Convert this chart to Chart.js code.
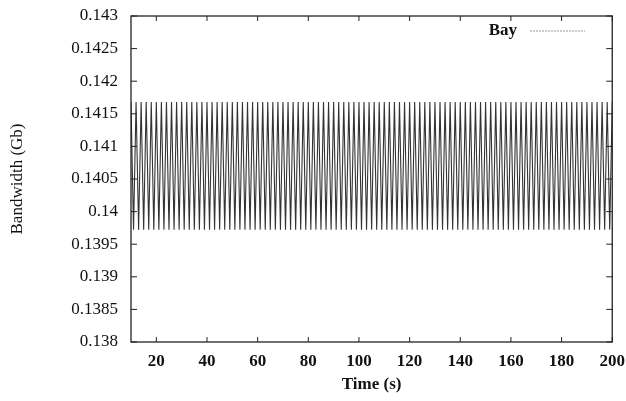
<!DOCTYPE html>
<html>
<head>
<meta charset="utf-8">
<script src="https://cdn.jsdelivr.net/npm/chart.js@4.4.1/dist/chart.umd.min.js"></script>
<style>
	html, body { margin: 0; padding: 0; background: #fff; }
	#wrap { width: 626px; height: 401px; }
</style>
</head>
<body>
<div id="wrap"><canvas id="c" width="626" height="401"></canvas></div>
<script>
// time axis: one sample per second from t = 10 s
var startTime = 10;
var yTicks = [0.138, 0.1385, 0.139, 0.1395, 0.14, 0.1405, 0.141, 0.1415, 0.142, 0.1425, 0.143];
var xTicks = [20, 40, 60, 80, 100, 120, 140, 160, 180, 200];
var seriesName = 'Bay';

// bandwidth (Gb)
var bandwidth = [
	0.14168, 0.13972, 0.14168, 0.13972, 0.14168, 0.13972, 0.14168, 0.13972, 0.14168, 0.13972,
	0.14168, 0.13972, 0.14168, 0.13972, 0.14168, 0.13972, 0.14168, 0.13972, 0.14168, 0.13972,
	0.14168, 0.13972, 0.14168, 0.13972, 0.14168, 0.13972, 0.14168, 0.13972, 0.14168, 0.13972,
	0.14168, 0.13972, 0.14168, 0.13972, 0.14168, 0.13972, 0.14168, 0.13972, 0.14168, 0.13972,
	0.14168, 0.13972, 0.14168, 0.13972, 0.14168, 0.13972, 0.14168, 0.13972, 0.14168, 0.13972,
	0.14168, 0.13972, 0.14168, 0.13972, 0.14168, 0.13972, 0.14168, 0.13972, 0.14168, 0.13972,
	0.14168, 0.13972, 0.14168, 0.13972, 0.14168, 0.13972, 0.14168, 0.13972, 0.14168, 0.13972,
	0.14168, 0.13972, 0.14168, 0.13972, 0.14168, 0.13972, 0.14168, 0.13972, 0.14168, 0.13972,
	0.14168, 0.13972, 0.14168, 0.13972, 0.14168, 0.13972, 0.14168, 0.13972, 0.14168, 0.13972,
	0.14168, 0.13972, 0.14168, 0.13972, 0.14168, 0.13972, 0.14168, 0.13972, 0.14168, 0.13972,
	0.14168, 0.13972, 0.14168, 0.13972, 0.14168, 0.13972, 0.14168, 0.13972, 0.14168, 0.13972,
	0.14168, 0.13972, 0.14168, 0.13972, 0.14168, 0.13972, 0.14168, 0.13972, 0.14168, 0.13972,
	0.14168, 0.13972, 0.14168, 0.13972, 0.14168, 0.13972, 0.14168, 0.13972, 0.14168, 0.13972,
	0.14168, 0.13972, 0.14168, 0.13972, 0.14168, 0.13972, 0.14168, 0.13972, 0.14168, 0.13972,
	0.14168, 0.13972, 0.14168, 0.13972, 0.14168, 0.13972, 0.14168, 0.13972, 0.14168, 0.13972,
	0.14168, 0.13972, 0.14168, 0.13972, 0.14168, 0.13972, 0.14168, 0.13972, 0.14168, 0.13972,
	0.14168, 0.13972, 0.14168, 0.13972, 0.14168, 0.13972, 0.14168, 0.13972, 0.14168, 0.13972,
	0.14168, 0.13972, 0.14168, 0.13972, 0.14168, 0.13972, 0.14168, 0.13972, 0.14168, 0.13972,
	0.14168, 0.13972, 0.14168, 0.13972, 0.14168, 0.13972, 0.14168, 0.13972, 0.14168, 0.13972,
	0.14168
];

var points = [];
for (var i = 0; i < bandwidth.length; i++) {
	points.push({ x: startTime + i, y: bandwidth[i] });
}

var serif = '"Liberation Serif", "DejaVu Serif", serif';

// gnuplot like frame with inward ticks and the legend inside the plot
var framePlugin = {
	id: 'frame',
	afterDraw: function(chart){
		var ctx = chart.ctx,
			a = chart.chartArea,
			xs = chart.scales.x,
			ys = chart.scales.y;
		ctx.save();
		ctx.strokeStyle = '#222';
		ctx.lineWidth = 1.3;
		ctx.strokeRect(a.left, a.top, a.right - a.left, a.bottom - a.top);
		ctx.lineWidth = 1;
		xTicks.forEach(function(v){
			var px = xs.getPixelForValue(v);
			ctx.beginPath();
			ctx.moveTo(px, a.bottom); ctx.lineTo(px, a.bottom - 5);
			ctx.moveTo(px, a.top); ctx.lineTo(px, a.top + 5);
			ctx.stroke();
		});
		yTicks.forEach(function(v){
			var py = ys.getPixelForValue(v);
			ctx.beginPath();
			ctx.moveTo(a.left, py); ctx.lineTo(a.left + 6, py);
			ctx.moveTo(a.right, py); ctx.lineTo(a.right - 6, py);
			ctx.stroke();
		});
		// legend
		ctx.font = 'bold 17px ' + serif;
		ctx.fillStyle = '#111';
		ctx.textAlign = 'right';
		ctx.textBaseline = 'middle';
		ctx.fillText(seriesName, 517, 31);
		ctx.strokeStyle = '#999';
		ctx.setLineDash([2, 1]);
		ctx.beginPath();
		ctx.moveTo(530, 31); ctx.lineTo(585, 31);
		ctx.stroke();
		ctx.restore();
	}
};

new Chart(document.getElementById('c').getContext('2d'), {
	type: 'line',
	data: {
		datasets: [{
			label: seriesName,
			data: points,
			borderColor: '#333',
			borderWidth: 1.1,
			pointRadius: 0,
			tension: 0,
			fill: false
		}]
	},
	options: {
		responsive: false,
		animation: false,
		layout: { padding: { left: 0, right: 13, top: 16, bottom: 0 } },
		plugins: {
			legend: { display: false },
			tooltip: { enabled: false }
		},
		scales: {
			x: {
				type: 'linear',
				min: 10,
				max: 200,
				grid: { display: false },
				border: { display: false },
				afterBuildTicks: function(scale){
					scale.ticks = xTicks.map(function(v){ return { value: v }; });
				},
				afterFit: function(scale){ scale.height = 59; },
				ticks: {
					autoSkip: false,
					maxRotation: 0,
					padding: 1,
					color: '#111',
					font: { family: serif, size: 17, weight: 'bold' }
				},
				title: {
					display: true,
					text: 'Time (s)',
					color: '#111',
					padding: { top: 0, bottom: 6 },
					font: { family: serif, size: 17, weight: 'bold' }
				}
			},
			y: {
				min: 0.138,
				max: 0.143,
				grid: { display: false },
				border: { display: false },
				afterBuildTicks: function(scale){
					scale.ticks = yTicks.map(function(v){ return { value: v }; });
				},
				afterFit: function(scale){ scale.width = 131; },
				ticks: {
					autoSkip: false,
					padding: 5,
					color: '#111',
					font: { family: serif, size: 17 },
					callback: function(v){ return String(parseFloat(v.toFixed(4))); }
				},
				title: {
					display: true,
					text: 'Bandwidth (Gb)',
					color: '#111',
					padding: { top: 7, bottom: 0 },
					font: { family: serif, size: 17 }
				}
			}
		}
	},
	plugins: [framePlugin]
});
</script>
</body>
</html>
